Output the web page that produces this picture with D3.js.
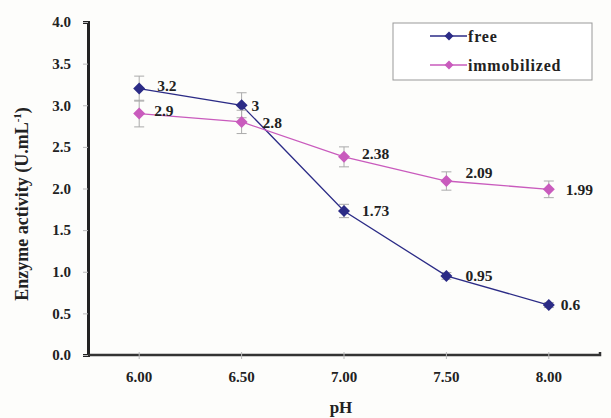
<!DOCTYPE html>
<html>
<head>
<meta charset="utf-8">
<script src="https://cdn.jsdelivr.net/npm/d3@7"></script>
<style>
  body { margin: 0; background: #fdfdfb; }
  svg { font-family: "Liberation Serif", "DejaVu Serif", serif; font-weight: bold; }
</style>
</head>
<body>
<svg id="chart" width="611" height="418"></svg>
<script>
// data
const phLabels = ["6.00", "6.50", "7.00", "7.50", "8.00"];
const freeValues = [3.2, 3.0, 1.73, 0.95, 0.6];
const freeErrors = [0.15, 0.15, 0.08, 0.04, 0.03];
const immobValues = [2.9, 2.8, 2.38, 2.09, 1.99];
const immobErrors = [0.16, 0.14, 0.12, 0.11, 0.1];
const freeText = ["3.2", "3", "1.73", "0.95", "0.6"];
const immobText = ["2.9", "2.8", "2.38", "2.09", "1.99"];
const yTicks = [0, 0.5, 1, 1.5, 2, 2.5, 3, 3.5, 4];

// label nudges (layout only)
const freeNudge = [[18, -3], [10, 0], [18, 0], [19, 0], [12, 0]];
const immobNudge = [[15, -3], [21, 1], [18, -3], [19, -8], [17, 0]];

const svg = d3.select("#chart");
const plotLeft = 88, plotRight = 600, plotTop = 22, plotBottom = 355;

const x = d3.scaleBand().domain(phLabels).range([plotLeft, plotRight]);
const y = d3.scaleLinear().domain([0, 4]).range([plotBottom, plotTop]);
const cx = function (d) { return x(d) + x.bandwidth() / 2; };

// y axis
const yAxis = svg.append("g")
    .attr("transform", "translate(" + plotLeft + ",0)")
    .call(d3.axisLeft(y).tickValues(yTicks).tickFormat(d3.format(".1f")).tickSize(5).tickPadding(12));
yAxis.select(".domain").attr("stroke", "#222").attr("stroke-width", 3);
yAxis.selectAll(".tick line").attr("stroke", "#bbb");
yAxis.selectAll(".tick text").attr("font-size", 15).attr("fill", "#222")
    .attr("font-family", "Liberation Serif, serif").attr("font-weight", "bold");

// x axis
const xAxis = svg.append("g")
    .attr("transform", "translate(0," + plotBottom + ")")
    .call(d3.axisBottom(x).tickSize(4).tickPadding(12));
xAxis.select(".domain").attr("stroke", "#333").attr("stroke-width", 2.5).attr("d", "M" + plotLeft + ",0H" + plotRight + "V-3");
xAxis.selectAll(".tick line").attr("stroke", "#bbb").attr("y1", -3);
xAxis.selectAll(".tick text").attr("font-size", 15).attr("fill", "#222")
    .attr("font-family", "Liberation Serif, serif").attr("font-weight", "bold");

// axis titles
svg.append("text")
    .attr("x", 341).attr("y", 413)
    .attr("text-anchor", "middle").attr("font-size", 17).attr("fill", "#222")
    .text("pH");

const yTitle = svg.append("text")
    .attr("transform", "translate(28,204) rotate(-90)")
    .attr("text-anchor", "middle").attr("font-size", 18).attr("fill", "#222");
yTitle.append("tspan").text("Enzyme activity (U.mL");
yTitle.append("tspan").attr("font-size", 11).attr("dy", -7).text("-1");
yTitle.append("tspan").attr("dy", 7).text(")");

// series
const series = [
    { name: "free", values: freeValues, errors: freeErrors, text: freeText, nudge: freeNudge, color: "#2b2b86" },
    { name: "immobilized", values: immobValues, errors: immobErrors, text: immobText, nudge: immobNudge, color: "#c95bbd" }
];

// square-ish diamond like the spreadsheet marker
const diamond = function (r) { return "M0," + (-r) + "L" + r + ",0L0," + r + "L" + (-r) + ",0Z"; };

series.forEach(function (s) {
    const pts = phLabels.map(function (p, i) {
        return { ph: p, v: s.values[i], e: s.errors[i], t: s.text[i], n: s.nudge[i] };
    });
    const g = svg.append("g");

    // error bars
    const eb = g.selectAll(".err").data(pts).enter().append("g").attr("stroke", "#aaa").attr("stroke-width", 1);
    eb.append("line")
        .attr("x1", function (d) { return cx(d.ph); }).attr("x2", function (d) { return cx(d.ph); })
        .attr("y1", function (d) { return y(d.v + d.e); }).attr("y2", function (d) { return y(d.v - d.e); });
    eb.append("line")
        .attr("x1", function (d) { return cx(d.ph) - 5; }).attr("x2", function (d) { return cx(d.ph) + 5; })
        .attr("y1", function (d) { return y(d.v + d.e); }).attr("y2", function (d) { return y(d.v + d.e); });
    eb.append("line")
        .attr("x1", function (d) { return cx(d.ph) - 5; }).attr("x2", function (d) { return cx(d.ph) + 5; })
        .attr("y1", function (d) { return y(d.v - d.e); }).attr("y2", function (d) { return y(d.v - d.e); });

    g.append("path")
        .datum(pts)
        .attr("fill", "none").attr("stroke", s.color).attr("stroke-width", 1.3)
        .attr("d", d3.line().x(function (d) { return cx(d.ph); }).y(function (d) { return y(d.v); }));

    g.selectAll(".mk").data(pts).enter().append("path")
        .attr("d", diamond(6)).attr("fill", s.color)
        .attr("transform", function (d) { return "translate(" + cx(d.ph) + "," + y(d.v) + ")"; });

    g.selectAll(".lbl").data(pts).enter().append("text")
        .attr("x", function (d) { return cx(d.ph) + d.n[0]; })
        .attr("y", function (d) { return y(d.v) + d.n[1]; })
        .attr("dy", "0.35em").attr("font-size", 15.5).attr("fill", "#222")
        .text(function (d) { return d.t; });
});

// legend
const lg = svg.append("g");
lg.append("rect").attr("x", 393).attr("y", 23).attr("width", 199).attr("height", 57)
    .attr("fill", "#fff").attr("stroke", "#999").attr("stroke-width", 1);
series.forEach(function (s, i) {
    const ly = 36 + i * 29;
    lg.append("line").attr("x1", 430).attr("x2", 467).attr("y1", ly).attr("y2", ly)
        .attr("stroke", s.color).attr("stroke-width", 1.5);
    lg.append("path").attr("d", diamond(4.5)).attr("fill", s.color)
        .attr("transform", "translate(449," + ly + ")");
    lg.append("text").attr("x", 468).attr("y", ly).attr("dy", "0.35em")
        .attr("font-size", 16).attr("letter-spacing", 0.8).attr("fill", "#222").text(s.name);
});
</script>
</body>
</html>
